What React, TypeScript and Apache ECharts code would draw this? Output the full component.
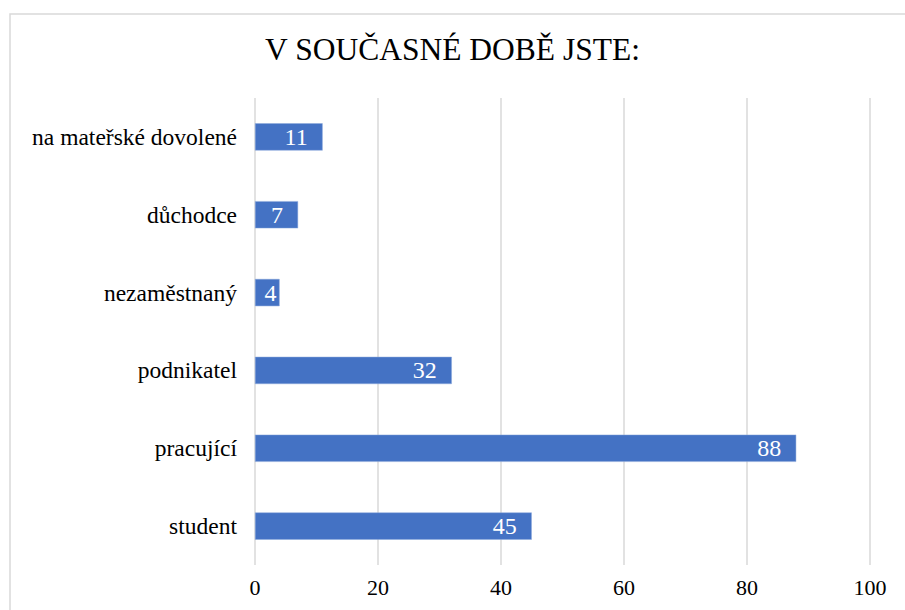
import React, { useEffect, useRef } from "react";
import * as echarts from "echarts";

const titleText = "V SOUČASNÉ DOBĚ JSTE:";
const categories = [
  "student",
  "pracující",
  "podnikatel",
  "nezaměstnaný",
  "důchodce",
  "na mateřské dovolené",
];
const values = [45, 88, 32, 4, 7, 11];
const xTicks = { min: 0, max: 100, interval: 20 };

const FONT = "Liberation Serif";

export default function App() {
  const ref = useRef<HTMLDivElement>(null);
  useEffect(() => {
    if (!ref.current) return;
    const chart = echarts.init(ref.current, null, { renderer: "svg" });
    const seriesData = values.map((v) =>
      v < 5 ? { value: v, label: { distance: 3 } } : v
    );
    chart.setOption({
      animation: false,
      backgroundColor: "#ffffff",
      title: {
        text: titleText,
        left: "center",
        top: 28,
        textStyle: {
          fontFamily: FONT,
          fontSize: 31.5,
          fontWeight: "normal",
          color: "#000000",
        },
      },
      graphic: [
        {
          type: "rect",
          shape: { x: 10, y: 14, width: 1000, height: 1000 },
          style: { fill: "none", stroke: "#d9d9d9", lineWidth: 1.5 },
          silent: true,
          z: -1,
        },
      ],
      grid: { left: 255, right: 35, top: 98, bottom: 45, containLabel: false },
      xAxis: {
        type: "value",
        min: xTicks.min,
        max: xTicks.max,
        interval: xTicks.interval,
        axisLine: { show: false },
        axisTick: { show: false },
        splitLine: { show: true, lineStyle: { color: "#d9d9d9", width: 1.5 } },
        axisLabel: {
          margin: 11,
          fontFamily: FONT,
          fontSize: 22,
          color: "#000000",
        },
      },
      yAxis: {
        type: "category",
        data: categories,
        axisLine: { show: false },
        axisTick: { show: false },
        axisLabel: {
          margin: 18,
          fontFamily: FONT,
          fontSize: 23.5,
          color: "#000000",
        },
      },
      series: [
        {
          type: "bar",
          data: seriesData,
          barCategoryGap: "65%",
          itemStyle: {
            color: "#4472C4",
            borderColor: "#8faadc",
            borderWidth: 0.5,
          },
          label: {
            show: true,
            position: "insideRight",
            distance: 15,
            fontFamily: FONT,
            fontSize: 24,
            color: "#ffffff",
          },
        },
      ],
    });
    return () => chart.dispose();
  }, []);
  return (
    <div
      ref={ref}
      style={{ position: "absolute", left: 0, top: 0, width: 905, height: 610 }}
    />
  );
}
